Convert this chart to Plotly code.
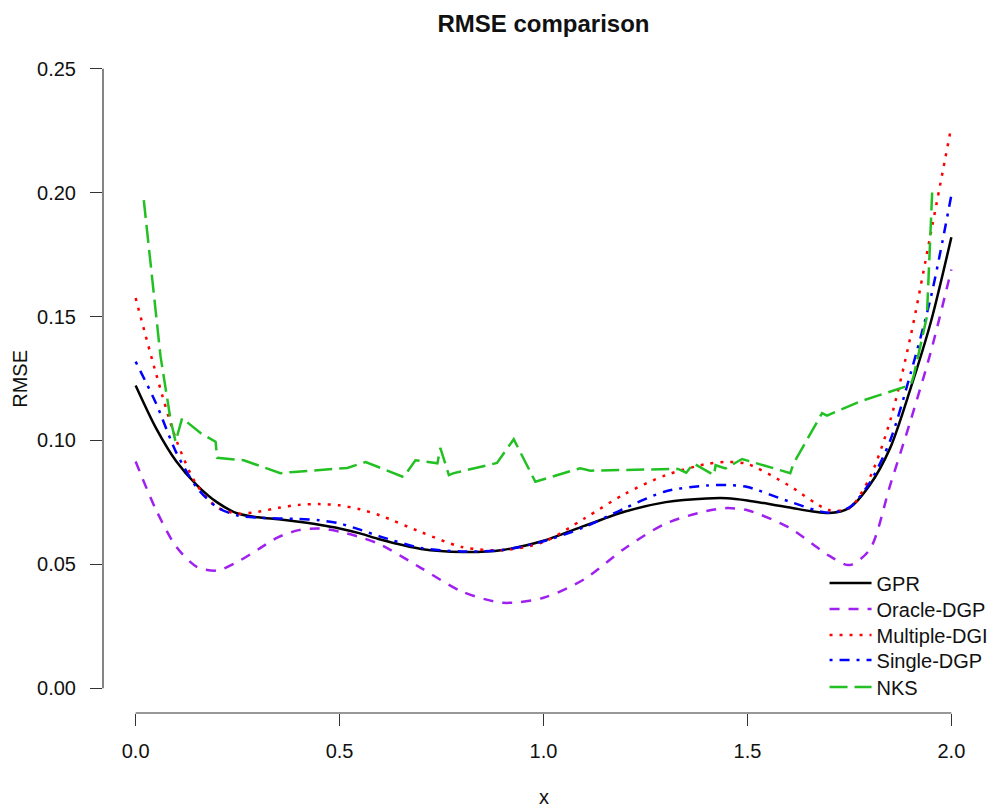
import plotly.graph_objects as go

# ---- data ----
x_smooth = [0.0, 0.05, 0.1, 0.15, 0.2, 0.25, 0.3, 0.35, 0.4, 0.45, 0.5, 0.55, 0.6, 0.7, 0.8, 0.9,
            1.0, 1.1, 1.2, 1.3, 1.4, 1.45, 1.5, 1.6, 1.7, 1.75, 1.8, 1.85, 1.9, 1.95, 2.0]

gpr = [0.1222, 0.105, 0.0915, 0.082, 0.075, 0.0705, 0.069, 0.0682, 0.0672, 0.0660, 0.0645, 0.0625,
       0.0600, 0.0562, 0.0550, 0.0558, 0.0595, 0.0655, 0.0713, 0.0751, 0.0766, 0.0767, 0.0758,
       0.0730, 0.0707, 0.0728, 0.0820, 0.0970, 0.1210, 0.1480, 0.1820]

oracle = [0.0915, 0.072, 0.057, 0.049, 0.0475, 0.051, 0.056, 0.061, 0.0638, 0.0645, 0.0632, 0.0610,
          0.0580, 0.0485, 0.0390, 0.0345, 0.0365, 0.0440, 0.0565, 0.0665, 0.0715, 0.0727, 0.0718,
          0.0650, 0.0535, 0.0497, 0.0560, 0.0820, 0.1080, 0.1360, 0.1690]

multiple = [0.1575, 0.127, 0.100, 0.082, 0.073, 0.0705, 0.0712, 0.0728, 0.0740, 0.0743, 0.0738,
            0.0722, 0.0697, 0.0630, 0.0570, 0.0557, 0.0590, 0.0685, 0.0785, 0.0860, 0.0905, 0.0913,
            0.0905, 0.0820, 0.0719, 0.0727, 0.0850, 0.1080, 0.1420, 0.1840, 0.2267]

single = [0.1318, 0.115, 0.095, 0.081, 0.073, 0.0697, 0.0688, 0.0685, 0.0683, 0.0678, 0.0665,
          0.0640, 0.0612, 0.0566, 0.0552, 0.0558, 0.0593, 0.0650, 0.0727, 0.0795, 0.0818, 0.0820,
          0.0812, 0.0755, 0.0708, 0.0730, 0.0830, 0.1000, 0.1270, 0.1580, 0.1990]

nks_x = [0.02, 0.037, 0.061, 0.086, 0.098, 0.114, 0.159, 0.196, 0.20, 0.265, 0.355, 0.388, 0.519,
         0.564, 0.592, 0.657, 0.686, 0.74, 0.747, 0.768, 0.78, 0.886, 0.927, 0.98, 1.09, 1.115,
         1.33, 1.35, 1.368, 1.418, 1.422, 1.446, 1.487, 1.605, 1.613, 1.683, 1.695, 1.777, 1.90,
         1.907, 1.94, 1.953]
nks_y = [0.197, 0.1716, 0.134, 0.108, 0.0995, 0.109, 0.103, 0.0995, 0.093, 0.092, 0.0868, 0.0873,
         0.0889, 0.0913, 0.0894, 0.0852, 0.092, 0.0908, 0.097, 0.086, 0.0868, 0.0909, 0.1005,
         0.0833, 0.0888, 0.0878, 0.0885, 0.087, 0.0907, 0.086, 0.090, 0.0887, 0.0925, 0.0868,
         0.0907, 0.111, 0.110, 0.1158, 0.1224, 0.1256, 0.150, 0.2005]

x_ticks = [0.0, 0.5, 1.0, 1.5, 2.0]
x_tick_labels = ["0.0", "0.5", "1.0", "1.5", "2.0"]
y_ticks = [0.0, 0.05, 0.10, 0.15, 0.20, 0.25]
y_tick_labels = ["0.00", "0.05", "0.10", "0.15", "0.20", "0.25"]

series_names = ["GPR", "Oracle-DGP", "Multiple-DGI", "Single-DGP", "NKS"]

FONT = "Liberation Sans, Arial, Helvetica, sans-serif"
TXT = "#111111"

fig = go.Figure()
fig.add_trace(go.Scatter(x=x_smooth, y=gpr, name=series_names[0], mode="lines", legend="legend",
                         line=dict(color="black", width=2.5, shape="spline", smoothing=0.8)))
fig.add_trace(go.Scatter(x=x_smooth, y=oracle, name=series_names[1], mode="lines", legend="legend2",
                         line=dict(color="#A020F0", width=2.5, dash="10px,9px",
                                   shape="spline", smoothing=0.8)))
fig.add_trace(go.Scatter(x=x_smooth, y=multiple, name=series_names[2], mode="lines", legend="legend3",
                         line=dict(color="#FF0000", width=2.5, dash="3px,7px",
                                   shape="spline", smoothing=0.8)))
fig.add_trace(go.Scatter(x=x_smooth, y=single, name=series_names[3], mode="lines", legend="legend4",
                         line=dict(color="#0000FF", width=2.5, dash="3px,7px,10px,7px",
                                   shape="spline", smoothing=0.8)))
fig.add_trace(go.Scatter(x=nks_x, y=nks_y, name=series_names[4], mode="lines", legend="legend5",
                         line=dict(color="#22C022", width=2.5, dash="18px,7px")))

axis_color = "#333333"
fig.update_xaxes(range=[-0.08, 2.08], showgrid=False, zeroline=False, showline=False,
                 tickmode="array", tickvals=x_ticks, ticktext=x_tick_labels,
                 ticks="outside", ticklen=12, tickwidth=1.2, tickcolor=axis_color,
                 tickfont=dict(family=FONT, size=20, color=TXT),
                 ticklabelstandoff=8)
fig.update_yaxes(range=[-0.01, 0.26], showgrid=False, zeroline=False, showline=False,
                 tickmode="array", tickvals=y_ticks, ticktext=y_tick_labels,
                 ticks="outside", ticklen=12, tickwidth=1.2, tickcolor=axis_color,
                 tickfont=dict(family=FONT, size=20, color=TXT),
                 ticklabelstandoff=10)

# R-style axis lines spanning only the tick range
fig.add_shape(type="line", xref="paper", yref="y", x0=0, x1=0,
              y0=y_ticks[0], y1=y_ticks[-1], line=dict(color=axis_color, width=1.2))
fig.add_shape(type="line", xref="x", yref="paper", y0=0, y1=0,
              x0=x_ticks[0], x1=x_ticks[-1], line=dict(color=axis_color, width=1.2))

fig.add_annotation(text="x", xref="paper", yref="paper", x=0.5, y=-0.125,
                   showarrow=False, yanchor="middle", xanchor="center",
                   font=dict(family=FONT, size=20, color=TXT))
fig.add_annotation(text="RMSE", xref="paper", yref="paper", x=-0.095, y=0.5,
                   showarrow=False, textangle=-90, yanchor="middle", xanchor="center",
                   font=dict(family=FONT, size=20, color=TXT))

# one legend per entry so the row spacing matches the reference
legend_rows_y = [0.1943, 0.1555, 0.1166, 0.0792, 0.0389]
legend_common = dict(x=0.819, xanchor="left", yanchor="middle", itemwidth=42,
                     bgcolor="rgba(0,0,0,0)", borderwidth=0,
                     font=dict(family=FONT, size=20, color=TXT))
legend_layout = {}
for i, yy in enumerate(legend_rows_y):
    key = "legend" if i == 0 else f"legend{i + 1}"
    legend_layout[key] = dict(y=yy, **legend_common)

fig.update_layout(
    width=988, height=810, autosize=False,
    margin=dict(l=103, r=4, t=44, b=97, autoexpand=False),
    paper_bgcolor="white", plot_bgcolor="white",
    title=dict(text="<b>RMSE comparison</b>", x=0.5, xref="paper", xanchor="center",
               y=1 - 24 / 810, yanchor="middle",
               font=dict(family=FONT, size=24, color=TXT)),
    showlegend=True,
    **legend_layout,
)

fig.write_html("out.html", config={"displayModeBar": False},
               post_script="document.body.style.margin='0px';document.body.style.padding='0px';")
